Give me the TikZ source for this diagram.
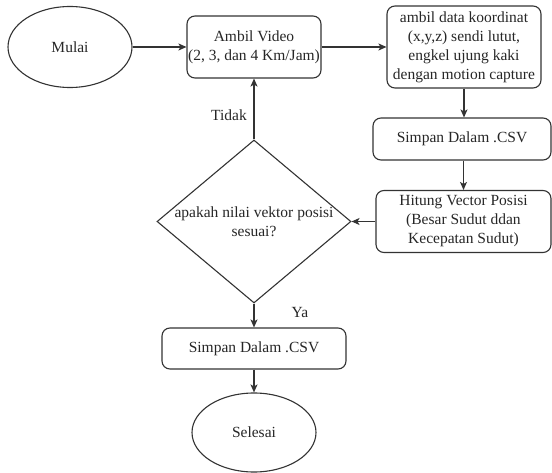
\documentclass[tikz,border=0pt]{standalone}
\usepackage{fontspec}
\setmainfont{Liberation Serif}
\usetikzlibrary{shapes.geometric,arrows.meta}
\definecolor{ln}{HTML}{333333}
\definecolor{tx}{HTML}{262626}
\tikzset{
  every node/.style={font=\fontsize{15.5}{19}\selectfont, text=tx},
  box/.style={draw=ln, line width=1.1pt, rounded corners=8pt, inner sep=0pt, align=center},
  oval/.style={draw=ln, line width=1.1pt, ellipse, inner sep=0pt},
  dia/.style={draw=ln, line width=1.1pt, diamond, inner sep=0pt},
  arr/.style={draw=ln, line width=1.1pt, -{Stealth[length=8pt,width=7pt,inset=2pt]}},
  lbl/.style={inner sep=0pt}
}
\begin{document}
\begin{tikzpicture}[x=1pt,y=-1pt]
\useasboundingbox (0,0) rectangle (552,473);
\node[oval, minimum width=124pt, minimum height=81pt] (mulai) at (70,47) {Mulai};
\node[box, minimum width=134pt, minimum height=62pt] (ambil) at (254,47) {Ambil Video\\(2, 3, dan 4 Km/Jam)};
\node[box, minimum width=154pt, minimum height=82pt] (data) at (464,47) {ambil data koordinat\\(x,y,z) sendi lutut,\\engkel ujung kaki\\dengan motion capture};
\node[box, minimum width=178pt, minimum height=42pt] (simpan1) at (462,139) {Simpan Dalam .CSV};
\node[box, minimum width=175pt, minimum height=62pt] (hitung) at (463.5,221.5) {Hitung Vector Posisi\\(Besar Sudut ddan\\Kecepatan Sudut)};
\node[dia, minimum width=194pt, minimum height=163pt] (dec) at (254,221.5) {};
\node[lbl, align=center] (dectext) at (dec.center) {apakah nilai vektor posisi\\sesuai?};
\node[box, minimum width=184pt, minimum height=41pt] (simpan2) at (254,348.5) {Simpan Dalam .CSV};
\node[oval, minimum width=124pt, minimum height=79pt] (selesai) at (254,432.5) {Selesai};
\node[lbl] (tidak) at (229,115) {Tidak};
\node[lbl] (ya) at (300,313) {Ya};
\draw[arr] (mulai.east) -- (ambil.west);
\draw[arr] (ambil.east) -- (data.west);
\draw[arr] (data.south) -- (data.south |- simpan1.north);
\draw[arr] (simpan1.south -| hitung.north) -- (hitung.north);
\draw[arr] (hitung.west) -- (dec.east);
\draw[arr] (dec.north) -- (ambil.south);
\draw[arr] (dec.south) -- (simpan2.north);
\draw[arr] (simpan2.south) -- (selesai.north);
\end{tikzpicture}
\end{document}
